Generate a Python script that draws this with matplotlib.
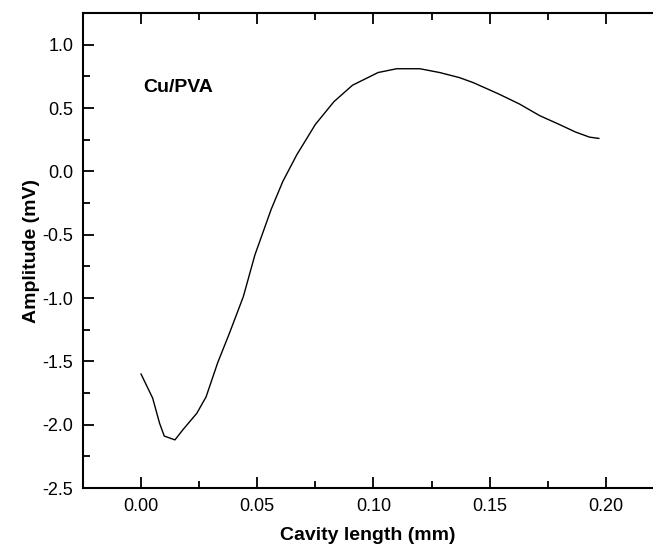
import matplotlib
matplotlib.use("Agg")
import matplotlib.pyplot as plt
from matplotlib.ticker import MultipleLocator

plt.rcParams['font.family'] = ['Liberation Sans', 'DejaVu Sans']

cavity_length = [0, 0.005, 0.008, 0.010, 0.0146, 0.018, 0.024, 0.028, 0.033, 0.038,
                 0.044, 0.049, 0.056, 0.061, 0.067, 0.075, 0.083, 0.091, 0.102, 0.110,
                 0.120, 0.1285, 0.137, 0.143, 0.154, 0.163, 0.1715, 0.180, 0.187, 0.193, 0.197]
amplitude = [-1.60, -1.79, -1.99, -2.09, -2.12, -2.04, -1.91, -1.78, -1.51, -1.28,
             -0.99, -0.66, -0.30, -0.08, 0.13, 0.37, 0.55, 0.68, 0.78, 0.81,
             0.81, 0.78, 0.74, 0.70, 0.61, 0.53, 0.44, 0.37, 0.31, 0.27, 0.26]

fig = plt.figure(figsize=(6.53, 5.51), dpi=100)
ax = fig.add_axes([0.127, 0.1143, 0.873, 0.8621])
ax.plot(cavity_length, amplitude, color='black', linewidth=1.0)

ax.set_xlim(-0.025, 0.2203)
ax.set_ylim(-2.5, 1.25)
ax.xaxis.set_minor_locator(MultipleLocator(0.025))
ax.yaxis.set_minor_locator(MultipleLocator(0.25))
ax.set_xticks([0.0, 0.05, 0.10, 0.15, 0.20])
ax.set_xticklabels(['0.00', '0.05', '0.10', '0.15', '0.20'])
ax.set_yticks([-2.5, -2.0, -1.5, -1.0, -0.5, 0.0, 0.5, 1.0])
ax.set_yticklabels(['-2.5', '-2.0', '-1.5', '-1.0', '-0.5', '0.0', '0.5', '1.0'])

ax.tick_params(which='both', direction='in', top=True, right=False, labelsize=13, width=1.3)
ax.tick_params(which='major', length=8, pad=7)
ax.tick_params(which='minor', length=5)
for s in ['left', 'bottom', 'top']:
    ax.spines[s].set_linewidth(1.5)
ax.spines['right'].set_visible(False)

ax.set_xlabel('Cavity length (mm)', fontsize=14, fontweight='bold', labelpad=9)
ax.set_ylabel('Amplitude (mV)', fontsize=14, fontweight='bold', labelpad=2)
ax.text(0.001, 0.66, 'Cu/PVA', fontsize=14, fontweight='bold', va='center', ha='left')

fig.savefig('out.png', dpi=100)
